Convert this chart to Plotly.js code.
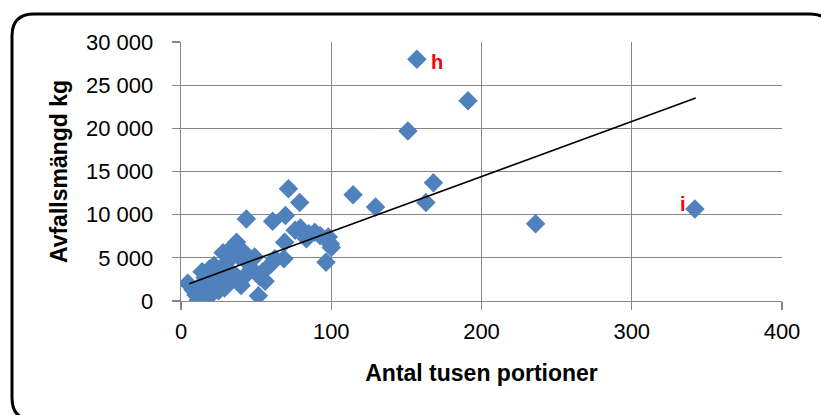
<!DOCTYPE html>
<html>
<head>
<meta charset="utf-8">
<script src="https://cdn.plot.ly/plotly-3.0.1.min.js"></script>
<style>
  html, body { margin: 0; padding: 0; background: #ffffff; }
  #chart { width: 821px; height: 415px; }
</style>
</head>
<body>
<div id="chart"></div>
<script>
// ---- data ----
const portionsX = [
  4.5, 8, 10, 11.5, 13, 14, 16, 18, 19, 20,
  22, 23, 25, 26, 28, 29, 30, 32, 33, 35,
  36, 37, 38, 39, 40, 41, 42, 43.5, 44, 47,
  49, 51.5, 52.5, 54.5, 56, 60, 61, 62.5, 68.5, 69,
  69.5, 71.5, 76, 79, 79.5, 83.5, 85, 89, 92.5, 96.5,
  98, 99.5, 100, 15, 21,
  114.5, 129.5, 151, 157, 163, 168, 191, 236, 342
];
const wasteKg = [
  2050, 1300, 700, 100, 1800, 3400, 2700, 900, 3700, 1500,
  4100, 2300, 1200, 3000, 5600, 1500, 4400, 3500, 2500, 6400,
  3000, 6800, 5200, 2000, 1800, 5800, 2800, 9500, 4500, 3750,
  5100, 600, 2800, 3400, 2300, 4300, 9250, 4900, 4900, 6800,
  9900, 13000, 8200, 11400, 8450, 7200, 7800, 7950, 7600, 4500,
  7400, 6600, 6200, 400, 900,
  12300, 10900, 19700, 28000, 11400, 13700, 23200, 8950, 10650
];
const labelX = [157, 342];
const labelY = [28000, 10650];
const labelText = ["h", "i"];
const trendX = [5.5, 342.6];
const trendY = [2010, 23500];
const xTicks = [0, 100, 200, 300, 400];
const yTicks = [0, 5000, 10000, 15000, 20000, 25000, 30000];

// ---- layout helpers (pixel geometry of the frame) ----
const W = 821, H = 415;
const M = { l: 181, r: 39, t: 42, b: 114 };
const PW = W - M.l - M.r, PH = H - M.t - M.b;
const px = v => (v - M.l) / PW;
const py = v => (H - M.b - v) / PH;

function roundedRect(x0, y0, x1, y1, r) {
  const P = (x, y) => px(x) + ',' + py(y);
  return 'M' + P(x0 + r, y0) +
    ' L' + P(x1 - r, y0) + ' Q' + P(x1, y0) + ' ' + P(x1, y0 + r) +
    ' L' + P(x1, y1 - r) + ' Q' + P(x1, y1) + ' ' + P(x1 - r, y1) +
    ' L' + P(x0 + r, y1) + ' Q' + P(x0, y1) + ' ' + P(x0, y1 - r) +
    ' L' + P(x0, y0 + r) + ' Q' + P(x0, y0) + ' ' + P(x0 + r, y0) + ' Z';
}

const FONT = 'Liberation Sans, Arial, sans-serif';
const GRID = '#868686';

const traces = [
  {
    type: 'scatter', mode: 'markers',
    x: portionsX, y: wasteKg,
    marker: { symbol: 'diamond', size: 15, color: '#4F81BD', line: { width: 0 } },
    hoverinfo: 'x+y', showlegend: false
  },
  {
    type: 'scatter', mode: 'lines',
    x: trendX, y: trendY,
    line: { color: '#000000', width: 1.6 },
    hoverinfo: 'skip', showlegend: false
  }
];

const annotations = labelText.map((t, i) => ({
  x: labelX[i], y: labelY[i], xref: 'x', yref: 'y',
  text: '<b>' + t + '</b>', showarrow: false,
  xanchor: i === 0 ? 'left' : 'right',
  xshift: i === 0 ? 12 : -7, yshift: i === 0 ? -3 : 5,
  font: { family: FONT, size: 20, color: '#FF0000' }
}));

const layout = {
  width: W, height: H,
  margin: M,
  paper_bgcolor: '#ffffff', plot_bgcolor: '#ffffff',
  separators: ', ',
  showlegend: false,
  font: { family: FONT, size: 22, color: '#000000' },
  xaxis: {
    range: [0, 400], tickvals: xTicks, ticks: 'outside', ticklen: 8,
    tickcolor: GRID, tickwidth: 1.3,
    showgrid: true, gridcolor: GRID, gridwidth: 1.3,
    showline: true, linecolor: GRID, linewidth: 1.3,
    zeroline: false, ticklabelstandoff: 2,
    tickfont: { family: FONT, size: 22 },
    title: { text: '<b>Antal tusen portioner</b>', font: { family: FONT, size: 23 }, standoff: 22 },
    fixedrange: true
  },
  yaxis: {
    range: [0, 30000], tickvals: yTicks, tickformat: ',d', ticks: 'outside', ticklen: 8,
    tickcolor: GRID, tickwidth: 1.3,
    showgrid: true, gridcolor: GRID, gridwidth: 1.3,
    showline: true, linecolor: GRID, linewidth: 1.3,
    zeroline: false, ticklabelstandoff: 14,
    tickfont: { family: FONT, size: 22 },
    title: { text: '<b>Avfallsmängd kg</b>', font: { family: FONT, size: 23 }, standoff: 12 },
    fixedrange: true
  },
  shapes: [
    {
      type: 'path', xref: 'paper', yref: 'paper', layer: 'above',
      path: roundedRect(12, 14, 832, 420, 22),
      line: { color: '#000000', width: 3 }, fillcolor: 'rgba(0,0,0,0)'
    }
  ],
  annotations: annotations
};

Plotly.newPlot('chart', traces, layout, { displayModeBar: false, staticPlot: true });
</script>
</body>
</html>
